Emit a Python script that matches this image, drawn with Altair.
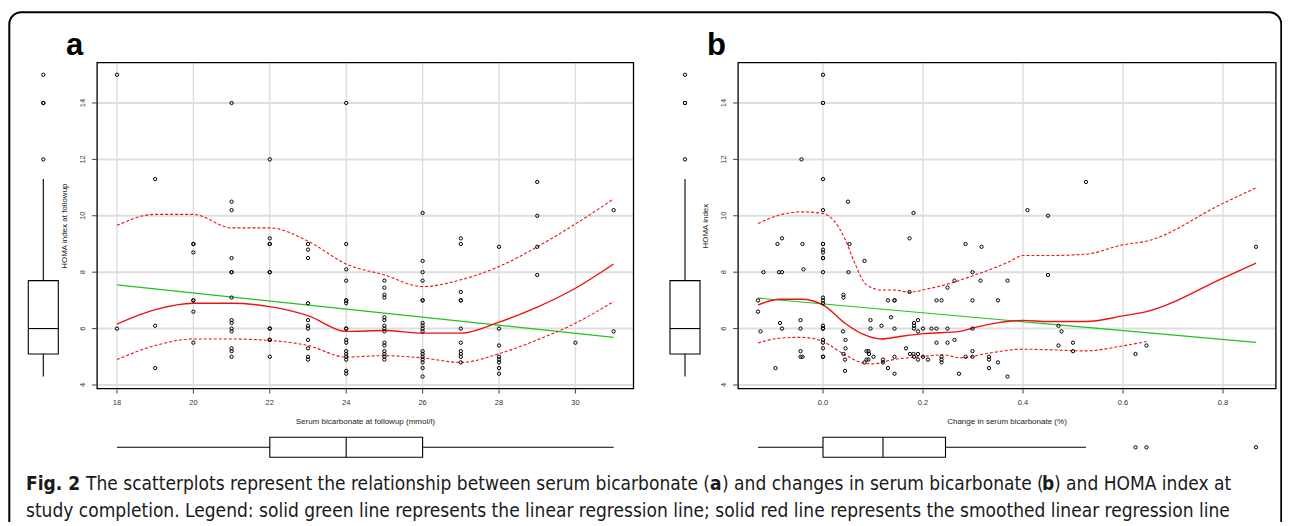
import altair as alt
import pandas as pd

# ---------------- data ----------------
# Panel a: serum bicarbonate at follow-up (x) vs HOMA index (y)
a_x = ([18]*2 + [19]*3 + [20]*7 + [21]*14 + [22]*11 + [23]*11 + [24]*17 +
       [25]*15 + [26]*17 + [27]*11 + [28]*8 + [29]*4 + [30]*1 + [31]*2)
a_y = [15, 6,
       11.3, 6.1, 4.6,
       9.0, 9.0, 8.7, 7.0, 7.0, 6.6, 5.5,
       14, 10.5, 10.2, 8.5, 8.0, 8.0, 7.1, 6.3, 6.2, 6.0, 5.9, 5.3, 5.2, 5.0,
       12.0, 9.2, 9.0, 9.0, 8.0, 8.0, 6.0, 6.0, 5.6, 5.6, 5.0,
       9.0, 8.8, 8.5, 6.9, 6.3, 6.1, 6.0, 5.6, 5.3, 5.0, 4.9,
       14.0, 9.0, 8.1, 7.7, 7.0, 7.0, 6.9, 6.0, 6.0, 5.6, 5.5, 5.2, 5.1, 5.0, 4.9, 4.5, 4.4,
       7.7, 7.45, 7.2, 7.1, 6.4, 6.3, 6.1, 6.0, 5.9, 5.5, 5.4, 5.2, 5.1, 5.0, 4.9,
       10.1, 8.4, 8.0, 7.7, 7.0, 7.0, 6.2, 6.1, 6.0, 5.9, 5.2, 5.1, 5.0, 4.9, 4.8, 4.6, 4.3,
       9.2, 9.0, 7.3, 7.0, 7.0, 6.0, 5.5, 5.2, 5.1, 5.0, 4.8,
       8.9, 6.0, 5.4, 5.0, 4.9, 4.8, 4.6, 4.4,
       11.2, 10.0, 8.9, 7.9,
       5.5,
       10.2, 5.9]

a_lin_x = [18, 31]
a_lin_y = [7.55, 5.69]
a_sm_x = [18, 19, 20, 21, 22, 23, 24, 25, 26, 27, 28, 29, 30, 31]
a_sm_y = [6.16, 6.67, 6.9, 6.9, 6.78, 6.46, 5.9, 5.93, 5.84, 5.84, 6.23, 6.76, 7.43, 8.29]
a_up_y = [9.66, 10.05, 10.05, 9.57, 9.57, 9.1, 8.29, 7.9, 7.49, 7.73, 8.2, 8.9, 9.71, 10.6]
a_lo_y = [4.9, 5.4, 5.63, 5.63, 5.58, 5.4, 4.99, 5.04, 4.96, 4.8, 5.11, 5.6, 6.19, 6.96]

# Panel b: change in serum bicarbonate (x) vs HOMA index (y)
b_x = [-0.13, -0.13, -0.125, -0.119, -0.095, -0.091, -0.086, -0.088, -0.082, -0.082, -0.082,
       -0.045, -0.045, -0.043, -0.041, -0.039, -0.045, -0.045, -0.041,
       0, 0, 0, 0, 0, 0, 0, 0, 0, 0, 0, 0, 0, 0, 0, 0, 0, 0, 0, 0, 0, 0, 0,
       0.04, 0.041, 0.041, 0.041, 0.044, 0.044, 0.045, 0.045, 0.05, 0.051, 0.053,
       0.083, 0.083, 0.087, 0.091, 0.087, 0.091, 0.092, 0.095, 0.095, 0.101,
       0.117, 0.12, 0.12, 0.13, 0.13, 0.136, 0.143, 0.143, 0.143, 0.143, 0.143,
       0.166, 0.173, 0.173, 0.174, 0.181, 0.181, 0.182, 0.182, 0.182, 0.182, 0.19, 0.19, 0.19, 0.19,
       0.2, 0.2, 0.21, 0.217, 0.227, 0.227, 0.227, 0.237, 0.237, 0.237, 0.237, 0.249, 0.249, 0.249,
       0.263, 0.263, 0.272, 0.285, 0.285,
       0.299, 0.299, 0.299, 0.299, 0.299, 0.315, 0.317, 0.332, 0.332, 0.332,
       0.35, 0.35, 0.369, 0.369,
       0.409, 0.45, 0.45, 0.471, 0.477, 0.471, 0.5, 0.5, 0.526, 0.625, 0.647, 0.866]
b_y = [7.0, 6.6, 5.9, 8.0, 4.6, 9.0, 6.2, 8.0, 8.0, 9.2, 6.0,
       5.2, 5.0, 12.0, 9.0, 8.1, 6.3, 6.0, 5.0,
       15, 14, 14, 11.3, 10.2, 9.0, 9.0, 8.8, 8.7, 8.5, 8.5, 8.0, 7.1, 7.0, 6.9, 6.1, 6.0, 6.0, 5.6, 5.5, 5.3, 5.0, 5.0,
       5.9, 7.2, 7.1, 5.1, 4.9, 4.5, 5.6, 5.3, 10.5, 8.0, 9.0,
       8.4, 4.8, 5.2, 5.2, 4.9, 4.9, 5.1, 6.3, 6.0, 5.0,
       6.1, 4.9, 4.8, 7.0, 4.6, 6.4, 7.0, 7.0, 6.0, 5.0, 4.4,
       5.3, 9.2, 7.3, 5.1, 10.1, 5.1, 6.2, 6.1, 6.0, 5.0, 6.3, 5.9, 5.1, 4.9,
       6.0, 5.0, 4.9, 6.0, 7.0, 6.0, 5.5, 7.0, 5.0, 4.9, 4.8, 7.45, 6.0, 5.5,
       7.7, 5.6, 4.4, 9.0, 5.0,
       8.0, 7.0, 6.0, 5.2, 5.0, 7.7, 8.9, 5.0, 4.9, 4.6,
       7.0, 4.8, 7.7, 4.3,
       10.2, 10.0, 7.9, 6.1, 5.9, 5.4, 5.5, 5.2, 11.2, 5.1, 5.4, 8.9]

b_lin_x = [-0.13, 0.866]
b_lin_y = [7.08, 5.51]
b_sm_x = [-0.13, -0.086, -0.043, 0, 0.044, 0.08, 0.117, 0.154, 0.2, 0.274, 0.3, 0.332,
          0.4, 0.45, 0.526, 0.6, 0.647, 0.8, 0.866]
b_sm_y = [6.84, 7.04, 7.04, 6.84, 6.19, 5.8, 5.63, 5.72, 5.82, 5.9, 6.02, 6.15,
          6.29, 6.25, 6.25, 6.45, 6.6, 7.79, 8.32]
b_up_x = [-0.13, -0.086, -0.043, 0, 0.044, 0.061, 0.087, 0.117, 0.141, 0.173, 0.207, 0.254,
          0.294, 0.332, 0.37, 0.4, 0.45, 0.526, 0.6, 0.647, 0.8, 0.866]
b_up_y = [9.73, 10.03, 10.14, 10.08, 9.18, 8.43, 7.55, 7.37, 7.37, 7.29, 7.4, 7.6,
          7.84, 8.08, 8.35, 8.59, 8.59, 8.64, 8.97, 9.1, 10.44, 10.99]
b_lo_x = [-0.13, -0.086, -0.043, 0, 0.044, 0.08, 0.1, 0.141, 0.2, 0.241, 0.274, 0.332,
          0.4, 0.45, 0.526, 0.6, 0.647]
b_lo_y = [5.49, 5.66, 5.69, 5.54, 5.07, 4.78, 4.75, 4.9, 5.01, 5.07, 4.96, 5.13,
          5.27, 5.25, 5.21, 5.39, 5.54]

# boxplot summaries (whisker low, Q1, median, Q3, whisker high) and outliers
homa_box = [4.3, 5.1, 6.0, 7.7, 11.3]
homa_out = [12, 14, 14, 15]
bic_box = [18, 22, 24, 26, 31]
chg_box = [-0.13, 0.0, 0.12, 0.245, 0.526]
chg_out = [0.625, 0.647, 0.866]

y_ticks = [4, 6, 8, 10, 12, 14]
a_ticks = [18, 20, 22, 24, 26, 28, 30]
b_ticks = [0.0, 0.2, 0.4, 0.6, 0.8]
b_tick_labels = ["0.0", "0.2", "0.4", "0.6", "0.8"]

cap1 = [("Fig. 2", "bold", 18),
        ("The scatterplots represent the relationship between serum bicarbonate (", "normal", 78),
        ("a", "bold", 702),
        (") and changes in serum bicarbonate (", "normal", 714),
        ("b", "bold", 1034),
        (") and HOMA index at", "normal", 1046)]
cap2 = "study completion. Legend: solid green line represents the linear regression line; solid red line represents the smoothed linear regression line"

# ---------------- layout (chart pixel coordinates) ----------------
W, H = 1274, 514
XA = alt.Scale(domain=[17.48, 31.52], range=[89.1, 625.5], nice=False, zero=False)
XB = alt.Scale(domain=[-0.1698, 0.9058], range=[730.1, 1267.9], nice=False, zero=False)
YS = alt.Scale(domain=[3.872, 15.428], range=[380.6, 54.7], nice=False, zero=False)
PANELS = {"a": (XA, 89.1, 625.5), "b": (XB, 730.1, 1267.9)}
Y_TOP, Y_BOT = 54.7, 380.6

GREEN = "#1fc41f"
RED = "#ee1111"
GRID = "#dedede"
FONT = "Liberation Sans, Arial, Helvetica, sans-serif"
CAPFONT = "DejaVu Sans Condensed, sans-serif"
CAPSIZE = 19.0

one = pd.DataFrame({"k": [0]})
layers = []


def X(scale):
    return alt.X("x:Q", scale=scale, axis=None)


def Yq(field="y"):
    return alt.Y(f"{field}:Q", scale=YS, axis=None)


def panel(key, px, py, lin, sm, up, lo, xticks, xlabels, ylabel, xlabel,
          vbox_x, hbox_scale_out):
    xs, x0, x1 = PANELS[key]
    # grid
    layers.append(alt.Chart(pd.DataFrame({"y": y_ticks})).mark_rule(color=GRID, strokeWidth=2)
                  .encode(y=Yq(), x=alt.value(x0), x2=alt.value(x1)))
    layers.append(alt.Chart(pd.DataFrame({"x": xticks})).mark_rule(color=GRID, strokeWidth=1.4)
                  .encode(x=X(xs), y=alt.value(Y_TOP), y2=alt.value(Y_BOT)))
    # regression lines
    layers.append(alt.Chart(pd.DataFrame({"x": lin[0], "y": lin[1]}))
                  .mark_line(color=GREEN, strokeWidth=1.2).encode(x=X(xs), y=Yq()))
    layers.append(alt.Chart(pd.DataFrame({"x": up[0], "y": up[1]}))
                  .mark_line(color=RED, strokeWidth=1.1, strokeDash=[3, 2], interpolate="monotone")
                  .encode(x=X(xs), y=Yq()))
    layers.append(alt.Chart(pd.DataFrame({"x": lo[0], "y": lo[1]}))
                  .mark_line(color=RED, strokeWidth=1.1, strokeDash=[3, 2], interpolate="monotone")
                  .encode(x=X(xs), y=Yq()))
    layers.append(alt.Chart(pd.DataFrame({"x": sm[0], "y": sm[1]}))
                  .mark_line(color=RED, strokeWidth=1.4, interpolate="monotone")
                  .encode(x=X(xs), y=Yq()))
    # points
    layers.append(alt.Chart(pd.DataFrame({"x": px, "y": py}))
                  .mark_point(shape="circle", filled=False, size=11, strokeWidth=1, color="black", opacity=1)
                  .encode(x=X(xs), y=Yq()))
    # frame
    layers.append(alt.Chart(one).mark_rect(fillOpacity=0, stroke="black", strokeWidth=1.3)
                  .encode(x=alt.value(x0), x2=alt.value(x1), y=alt.value(Y_TOP), y2=alt.value(Y_BOT)))
    # ticks
    layers.append(alt.Chart(pd.DataFrame({"y": y_ticks})).mark_rule(color="#444", strokeWidth=1)
                  .encode(y=Yq(), x=alt.value(x0 - 5), x2=alt.value(x0)))
    layers.append(alt.Chart(pd.DataFrame({"x": xticks})).mark_rule(color="#444", strokeWidth=1)
                  .encode(x=X(xs), y=alt.value(Y_BOT), y2=alt.value(Y_BOT + 5)))
    # tick labels
    layers.append(alt.Chart(pd.DataFrame({"y": y_ticks, "t": [str(v) for v in y_ticks]}))
                  .mark_text(angle=270, fontSize=7.5, font=FONT, color="#333", align="center", baseline="middle")
                  .encode(y=Yq(), x=alt.value(x0 - 14.5), text="t:N"))
    layers.append(alt.Chart(pd.DataFrame({"x": xticks, "t": xlabels}))
                  .mark_text(fontSize=7.5, font=FONT, color="#333", align="center", baseline="middle")
                  .encode(x=X(xs), y=alt.value(Y_BOT + 14.5), text="t:N"))
    # axis titles
    layers.append(alt.Chart(pd.DataFrame({"t": [ylabel]}))
                  .mark_text(angle=270, fontSize=8, font=FONT, color="#222", align="center", baseline="middle")
                  .encode(x=alt.value(x0 - 32), y=alt.value((Y_TOP + Y_BOT) / 2 + 0.5), text="t:N"))
    layers.append(alt.Chart(pd.DataFrame({"t": [xlabel]}))
                  .mark_text(fontSize=8, font=FONT, color="#222", align="center", baseline="middle")
                  .encode(x=alt.value((x0 + x1) / 2), y=alt.value(414), text="t:N"))
    # panel letter
    layers.append(alt.Chart(pd.DataFrame({"t": [key]}))
                  .mark_text(fontSize=31, fontWeight="bold", font=FONT, color="black", align="left",
                             baseline="alphabetic")
                  .encode(x=alt.value(x0 - 31), y=alt.value(47), text="t:N"))

    # vertical boxplot of HOMA (left margin)
    bx0, bx1 = vbox_x - 15, vbox_x + 15
    vb = pd.DataFrame({"lw": [homa_box[0]], "q1": [homa_box[1]], "med": [homa_box[2]],
                       "q3": [homa_box[3]], "uw": [homa_box[4]]})
    layers.append(alt.Chart(vb).mark_rule(color="black", strokeWidth=1.1)
                  .encode(y=Yq("lw"), y2="q1:Q", x=alt.value(vbox_x)))
    layers.append(alt.Chart(vb).mark_rule(color="black", strokeWidth=1.1)
                  .encode(y=Yq("q3"), y2="uw:Q", x=alt.value(vbox_x)))
    layers.append(alt.Chart(vb).mark_rect(fillOpacity=0, stroke="black", strokeWidth=1.1)
                  .encode(y=Yq("q1"), y2="q3:Q", x=alt.value(bx0), x2=alt.value(bx1)))
    layers.append(alt.Chart(vb).mark_rule(color="black", strokeWidth=1.1)
                  .encode(y=Yq("med"), x=alt.value(bx0), x2=alt.value(bx1)))
    layers.append(alt.Chart(pd.DataFrame({"y": homa_out}))
                  .mark_point(shape="circle", filled=False, size=11, strokeWidth=1, color="black", opacity=1)
                  .encode(y=Yq(), x=alt.value(vbox_x)))

    # horizontal boxplot of x (below)
    stats, outs = hbox_scale_out
    hy, hy0, hy1 = 439.3, 429.3, 449.3
    hb = pd.DataFrame({"lw": [stats[0]], "q1": [stats[1]], "med": [stats[2]],
                       "q3": [stats[3]], "uw": [stats[4]]})
    layers.append(alt.Chart(hb).mark_rule(color="black", strokeWidth=1.1)
                  .encode(x=alt.X("lw:Q", scale=xs, axis=None), x2="q1:Q", y=alt.value(hy)))
    layers.append(alt.Chart(hb).mark_rule(color="black", strokeWidth=1.1)
                  .encode(x=alt.X("q3:Q", scale=xs, axis=None), x2="uw:Q", y=alt.value(hy)))
    layers.append(alt.Chart(hb).mark_rect(fillOpacity=0, stroke="black", strokeWidth=1.1)
                  .encode(x=alt.X("q1:Q", scale=xs, axis=None), x2="q3:Q", y=alt.value(hy0), y2=alt.value(hy1)))
    layers.append(alt.Chart(hb).mark_rule(color="black", strokeWidth=1.1)
                  .encode(x=alt.X("med:Q", scale=xs, axis=None), y=alt.value(hy0), y2=alt.value(hy1)))
    if outs:
        layers.append(alt.Chart(pd.DataFrame({"x": outs}))
                      .mark_point(shape="circle", filled=False, size=11, strokeWidth=1, color="black", opacity=1)
                      .encode(x=X(xs), y=alt.value(hy)))


panel("a", a_x, a_y, (a_lin_x, a_lin_y), (a_sm_x, a_sm_y), (a_sm_x, a_up_y), (a_sm_x, a_lo_y),
      a_ticks, [str(v) for v in a_ticks], "HOMA index at followup",
      "Serum bicarbonate at followup (mmol/l)", 35.3, (bic_box, []))
panel("b", b_x, b_y, (b_lin_x, b_lin_y), (b_sm_x, b_sm_y), (b_up_x, b_up_y), (b_lo_x, b_lo_y),
      b_ticks, b_tick_labels, "HOMA index",
      "Change in serum bicarbonate (%)", 677, (chg_box, chg_out))

# outer rounded frame
layers.append(alt.Chart(one).mark_rect(fillOpacity=0, stroke="black", strokeWidth=2, cornerRadius=12)
              .encode(x=alt.value(1.3), x2=alt.value(1273.3), y=alt.value(4.3), y2=alt.value(H + 20)))

# caption
for txt, wt, xpos in cap1:
    layers.append(alt.Chart(pd.DataFrame({"t": [txt]}))
                  .mark_text(fontSize=CAPSIZE, font=CAPFONT, fontWeight=wt, color="#1a1a1a", align="left",
                             baseline="alphabetic")
                  .encode(x=alt.value(xpos), y=alt.value(482), text="t:N"))
layers.append(alt.Chart(pd.DataFrame({"t": [cap2]}))
              .mark_text(fontSize=CAPSIZE, font=CAPFONT, color="#1a1a1a", align="left", baseline="alphabetic")
              .encode(x=alt.value(18), y=alt.value(509), text="t:N"))

chart = (alt.layer(*layers)
         .resolve_scale(x="independent", y="independent")
         .properties(width=W, height=H, padding=0, autosize=alt.AutoSizeParams(type="none"))
         .configure_view(stroke=None))

chart.save("out.html", embed_options={"renderer": "svg", "actions": False})
